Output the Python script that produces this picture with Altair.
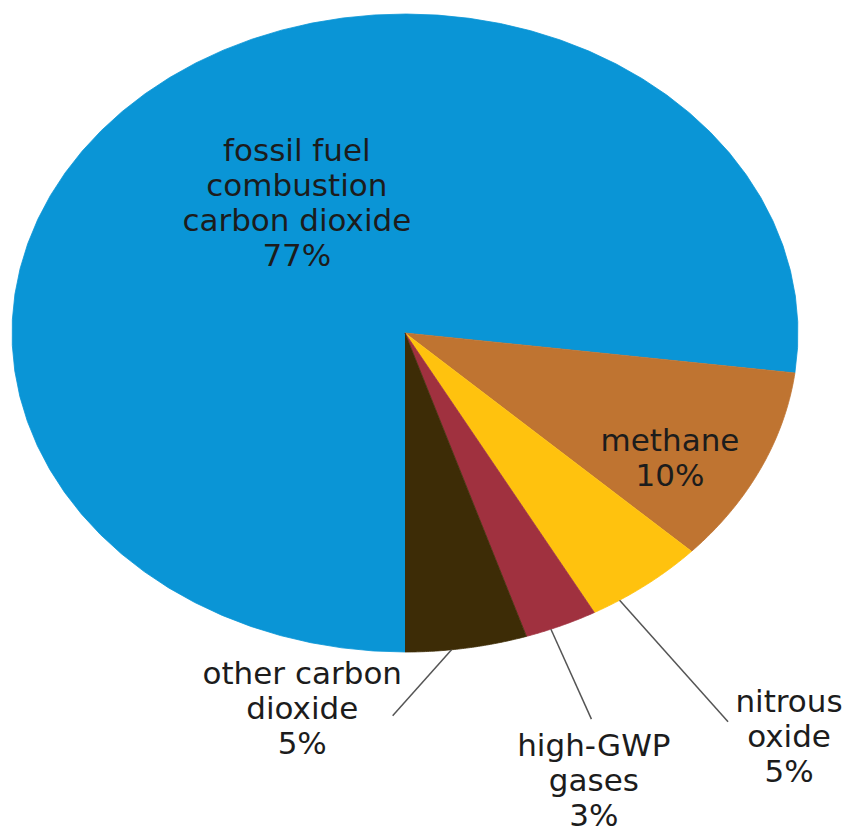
import altair as alt
import pandas as pd

# Shares of greenhouse-gas emissions (percent), in drawing order starting at 6 o'clock
CATEGORIES = [
    "fossil fuel combustion carbon dioxide",
    "methane",
    "nitrous oxide",
    "high-GWP gases",
    "other carbon dioxide",
]
LABELS = [
    "fossil fuel\ncombustion\ncarbon dioxide",
    "methane",
    "nitrous\noxide",
    "high-GWP\ngases",
    "other carbon\ndioxide",
]
SHARES = [77, 10, 5, 3, 5]
COLORS = ["#0A95D6", "#BF7431", "#FFC20E", "#A0313F", "#3D2C06"]

# Placement of each label's first line relative to the slice mid-angle
# (radius in pie radii, shift in degrees)
LABEL_R = [0.63, 0.756, 1.517, 1.385, 1.104]
LABEL_SHIFT = [15.5, 1.7, -2.3, 3.1, 22.7]
# Leader lines: start shift on the rim, end radius and end shift (0 radius = no leader)
LEAD_START = [0, 0, 4.7, 1.6, 2.2]
LEAD_END_R = [0, 0, 1.47, 1.30, 1.20]
LEAD_END = [0, 0, 3.8, 2.0, 10.5]

# Canvas and ellipse geometry in pixels
W, H = 847, 832
CX, CY = 405, 333
RX, RY = 393, 319

df = pd.DataFrame({
    "category": CATEGORIES,
    "label": LABELS,
    "share": SHARES,
    "order": list(range(len(CATEGORIES))),
    "label_r": LABEL_R,
    "label_shift": LABEL_SHIFT,
    "lead_s": LEAD_START,
    "lead_r": LEAD_END_R,
    "lead_e": LEAD_END,
})

xscale = alt.Scale(domain=[-CX / RX, (W - CX) / RX], zero=False, nice=False)
yscale = alt.Scale(domain=[(CY - H) / RY, CY / RY], zero=False, nice=False)
color_scale = alt.Scale(domain=CATEGORIES, range=COLORS)

base = (
    alt.Chart(df)
    .transform_window(cum="sum(share)", sort=[alt.SortField("order")], frame=[None, 0])
    .transform_calculate(
        a0="PI + 2 * PI * (datum.cum - datum.share) / 100",
        a1="PI + 2 * PI * datum.cum / 100",
    )
    .transform_calculate(mid="(datum.a0 + datum.a1) / 2")
)

# Each slice is a filled polygon: centre point followed by points along its arc
slices = (
    base.transform_calculate(k="sequence(0, 62)")
    .transform_flatten(["k"])
    .transform_calculate(ang="datum.a0 + (datum.a1 - datum.a0) * (datum.k - 1) / 60")
    .transform_calculate(
        px="datum.k == 0 ? 0 : sin(datum.ang)",
        py="datum.k == 0 ? 0 : cos(datum.ang)",
    )
    .mark_line(filled=True, strokeWidth=0.8, interpolate="linear")
    .encode(
        x=alt.X("px:Q", scale=xscale, axis=None),
        y=alt.Y("py:Q", scale=yscale, axis=None),
        color=alt.Color("category:N", scale=color_scale, legend=None),
        stroke=alt.Stroke("category:N", scale=color_scale, legend=None),
        order=alt.Order("k:Q"),
    )
)

leaders = (
    base.transform_filter("datum.lead_r > 0")
    .transform_calculate(
        sx="sin(datum.mid + datum.lead_s * PI / 180)",
        sy="cos(datum.mid + datum.lead_s * PI / 180)",
        ex="datum.lead_r * sin(datum.mid + datum.lead_e * PI / 180)",
        ey="datum.lead_r * cos(datum.mid + datum.lead_e * PI / 180)",
    )
    .mark_rule(color="#555555", strokeWidth=1.5)
    .encode(
        x=alt.X("sx:Q", scale=xscale, axis=None),
        y=alt.Y("sy:Q", scale=yscale, axis=None),
        x2="ex:Q",
        y2="ey:Q",
    )
)

labels = (
    base.transform_calculate(
        lx="datum.label_r * sin(datum.mid + datum.label_shift * PI / 180)",
        ly="datum.label_r * cos(datum.mid + datum.label_shift * PI / 180)",
        txt="datum.label + '\\n' + datum.share + '%'",
    )
    .mark_text(
        font="DejaVu Sans",
        fontSize=31,
        lineHeight=35,
        lineBreak="\n",
        align="center",
        baseline="middle",
        color="#1c1c1c",
    )
    .encode(
        x=alt.X("lx:Q", scale=xscale, axis=None),
        y=alt.Y("ly:Q", scale=yscale, axis=None),
        text="txt:N",
    )
)

chart = (
    alt.layer(slices, leaders, labels)
    .properties(width=W, height=H, padding=0, autosize=alt.AutoSizeParams(type="none"), background="white")
    .configure_view(stroke=None)
)

chart.save("out.html", embed_options={"renderer": "svg", "actions": False})
